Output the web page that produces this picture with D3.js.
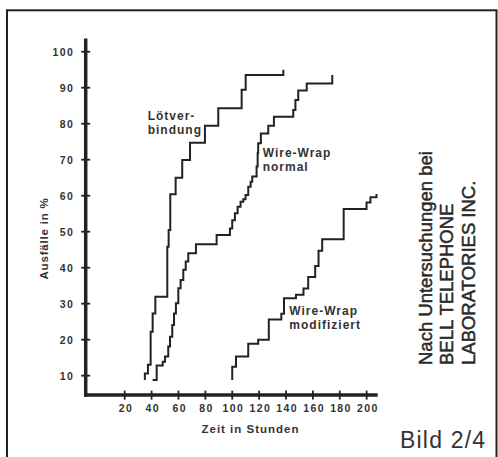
<!DOCTYPE html>
<html>
<head>
<meta charset="utf-8">
<script src="https://cdn.jsdelivr.net/npm/d3@7"></script>
<style>
  html, body { margin: 0; padding: 0; background: #fff; }
  svg { display: block; font-family: "Liberation Sans", Arial, Helvetica, sans-serif; }
</style>
</head>
<body>
<svg id="chart" width="498" height="457"></svg>
<script>
// ---- data (hours, failure %) ----
const xTicks = [20, 40, 60, 80, 100, 120, 140, 160, 180, 200];
const yTicks = [10, 20, 30, 40, 50, 60, 70, 80, 90, 100];

const lotHours = [35, 35, 37.3, 39.3, 40.8, 42.8, 51.7, 52.7, 53.9, 57.9, 62.8, 68.6, 79.7, 89.6, 107, 110, 138];
const lotPct   = [8.8, 10.6, 13, 22.2, 27.3, 31.9, 45.8, 50.5, 60.4, 65, 69.9, 74.7, 79.4, 84.3, 89.4, 93.5, 95];

const wwnHours = [40.8, 43.8, 48.3, 50.0, 52.4, 53.7, 55.4, 56.7, 58.1, 59.9, 61.6, 63.6, 65.4, 67.3, 73.0, 88.4, 98.3, 100.0, 102.0, 104.0, 106.2, 108.2, 109.9, 111.9, 113.7, 114.9, 118.1, 118.9, 119.3, 121.3, 126.8, 131.0, 145.4, 147.0, 149.1, 155.4, 174.4];
const wwnPct   = [8.8, 12.8, 13.9, 15.3, 18.1, 20.8, 24.1, 27.3, 30.1, 34.3, 36.6, 39.4, 41.7, 44.0, 46.5, 49.1, 50.9, 53.2, 55.1, 56.9, 58.3, 59.0, 60.2, 62.5, 63.9, 65.3, 68.1, 71.8, 74.6, 77.3, 79.4, 81.9, 83.8, 86.6, 89.2, 91.2, 93.5];

const wwmHours = [100.0, 100.0, 102.8, 111.9, 119.3, 127.2, 136.5, 138.5, 147.4, 153.0, 156.5, 161.7, 164.2, 166.9, 182.9, 199.9, 202.8, 207.3];
const wwmPct   = [8.8, 12.5, 15.3, 18.9, 20.0, 25.6, 27.2, 31.5, 32.5, 34.2, 37.4, 40.5, 44.7, 47.9, 56.3, 58.1, 59.6, 60.5];

const seriesNames = ["Lötverbindung", "Wire-Wrap normal", "Wire-Wrap modifiziert"];
const xTitle = "Zeit in Stunden";
const yTitle = "Ausfälle in %";
const noteLines = ["Nach Untersuchungen bei", "BELL TELEPHONE", "LABORATORIES INC."];
const figLabel = "Bild 2/4";

// ---- drawing ----
const svg = d3.select("#chart");
const ink = "#222";
const textCol = "#333";

// frame
svg.append("rect")
  .attr("x", 7).attr("y", 10.3).attr("width", 489.5).attr("height", 470)
  .attr("fill", "none").attr("stroke", ink).attr("stroke-width", 2);

const x = d3.scaleLinear().domain([-9, 208.2]).range([85.7, 377.7]);
const y = d3.scaleLinear().domain([4.6, 103.7]).range([395.1, 38.4]);

// axis lines
const [x0, x1] = x.range();
const [yb, yt] = y.range();
svg.append("line").attr("x1", x0).attr("x2", x0).attr("y1", yt).attr("y2", yb + 1.7)
  .attr("stroke", ink).attr("stroke-width", 3.5);
svg.append("line").attr("x1", x0 - 1.7).attr("x2", x1).attr("y1", yb).attr("y2", yb)
  .attr("stroke", ink).attr("stroke-width", 3.5);

// tick marks crossing the axes
svg.append("g").selectAll("line").data(yTicks).join("line")
  .attr("x1", x0 - 4.5).attr("x2", x0 + 4.5)
  .attr("y1", d => y(d)).attr("y2", d => y(d))
  .attr("stroke", ink).attr("stroke-width", 1.8);
svg.append("g").selectAll("line").data(xTicks).join("line")
  .attr("y1", yb - 4.5).attr("y2", yb + 4.5)
  .attr("x1", d => x(d)).attr("x2", d => x(d))
  .attr("stroke", ink).attr("stroke-width", 1.8);

// tick labels via d3 axes
const yAxis = svg.append("g").attr("transform", `translate(${x0},0)`)
  .call(d3.axisLeft(y).tickValues(yTicks).tickSize(0).tickPadding(11.5));
const xAxis = svg.append("g").attr("transform", `translate(0,${yb})`)
  .call(d3.axisBottom(x).tickValues(xTicks).tickSize(0).tickPadding(9));
[yAxis, xAxis].forEach(a => {
  a.select(".domain").remove();
  a.selectAll("text")
    .attr("fill", textCol)
    .style("font-family", '"Liberation Sans", Arial, sans-serif')
    .style("font-size", "10.5px").style("font-weight", "bold")
    .style("letter-spacing", "1.4px");
});
xAxis.selectAll("text").attr("dx", "0.7px");

// axis titles
svg.append("text").text(xTitle)
  .attr("x", 250.5).attr("y", 433.3).attr("text-anchor", "middle")
  .attr("fill", textCol).style("font-size", "11.5px").style("font-weight", "bold")
  .style("letter-spacing", "1px");
svg.append("text").text(yTitle)
  .attr("transform", "translate(47.7,238.5) rotate(-90)").attr("text-anchor", "middle")
  .attr("fill", textCol).style("font-size", "11.5px").style("font-weight", "bold")
  .style("letter-spacing", "0.8px");

// step curves
const line = d3.line().x(d => x(d[0])).y(d => y(d[1])).curve(d3.curveStepAfter);
const series = [
  d3.zip(lotHours, lotPct),
  d3.zip(wwnHours, wwnPct),
  d3.zip(wwmHours, wwmPct)
];
svg.append("g").selectAll("path").data(series).join("path")
  .attr("d", line).attr("fill", "none").attr("stroke", ink)
  .attr("stroke-width", 2).attr("stroke-linejoin", "miter");

// series labels
const labels = [
  { lines: ["Lötver-", "bindung"], x: 147.7, y: 120 },
  { lines: ["Wire-Wrap", "normal"], x: 262.7, y: 156.7 },
  { lines: ["Wire-Wrap", "modifiziert"], x: 289.3, y: 314.5 }
];
labels.forEach(l => {
  const t = svg.append("text").attr("fill", textCol)
    .style("font-size", "12px").style("font-weight", "bold").style("letter-spacing", "1px");
  l.lines.forEach((s, i) => t.append("tspan").attr("x", l.x).attr("y", l.y + i * 14).text(s));
});

// side note (rotated)
const note = svg.append("text").attr("transform", "translate(0,365) rotate(-90)")
  .attr("fill", "#2a2a2a").attr("stroke", "#2a2a2a").attr("stroke-width", 0.5)
  .style("font-size", "18.5px");
noteLines.forEach((s, i) => note.append("tspan").attr("x", 0).attr("y", 431.7 + i * 21.7).text(s));

// figure label
svg.append("text").text(figLabel).attr("x", 400).attr("y", 448.3)
  .attr("fill", textCol).style("font-size", "23px").style("letter-spacing", "1.2px");
</script>
</body>
</html>
